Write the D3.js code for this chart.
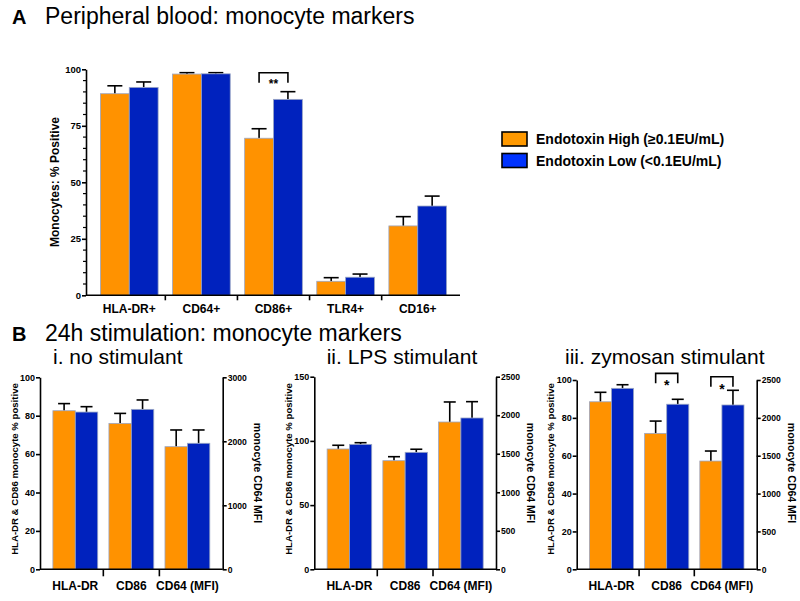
<!DOCTYPE html>
<html><head><meta charset="utf-8">
<script src="https://cdn.jsdelivr.net/npm/d3@7"></script>
<style>
body{margin:0;background:#fff}
text{font-family:"Liberation Sans",Arial,sans-serif}
</style>
</head><body>
<svg id="c" width="800" height="601"></svg>
<script>
// ---------- data ----------
const seriesNames = ["Endotoxin High (\u22650.1EU/mL)", "Endotoxin Low (<0.1EU/mL)"];

const aCategories = ["HLA-DR+", "CD64+", "CD86+", "TLR4+", "CD16+"];
const aHigh    = [89.2, 97.9, 69.5, 6.2, 30.7];
const aHighErr = [3.5, 0.6, 4.2, 1.6, 4.1];
const aLow     = [92.0, 98.0, 86.7, 8.0, 39.5];
const aLowErr  = [2.4, 0.5, 3.4, 1.4, 4.4];
const aTicks   = [0, 25, 50, 75, 100];

const bCategories = ["HLA-DR", "CD86", "CD64 (MFI)"];
const bTitles = ["i. no stimulant", "ii. LPS stimulant", "iii. zymosan stimulant"];

const b1High = [82.6, 76.0, 1916], b1HighErr = [3.7, 5.2, 261];
const b1Low  = [81.9, 83.3, 1969], b1LowErr  = [2.8, 4.9, 208];
const b2High = [93.7, 84.6, 1912], b2HighErr = [2.9, 3.1, 260];
const b2Low  = [97.3, 91.1, 1964], b2LowErr  = [1.3, 2.4, 212];
const b3High = [88.5, 71.8, 1430], b3HighErr = [5.0, 6.5, 132];
const b3Low  = [95.6, 87.2, 2170], b3LowErr  = [1.9, 2.6, 194];

const b1LeftTicks = [0, 20, 40, 60, 80, 100], b1RightTicks = [0, 1000, 2000, 3000];
const b2LeftTicks = [0, 50, 100, 150],        b2RightTicks = [0, 500, 1000, 1500, 2000, 2500];
const b3LeftTicks = [0, 20, 40, 60, 80, 100], b3RightTicks = [0, 500, 1000, 1500, 2000, 2500];

// significance annotations: category index, bracket level (data units), label
const aSig  = [{cat: 2, level: 98.5, label: "**"}];
const b3Sig = [{cat: 1, level: 103.5, axis: "left", label: "*"},
               {cat: 2, level: 2543, axis: "right", label: "*"}];

// ---------- style ----------
const ORANGE = "#FF9200", BLUE = "#0022BE";
const LEG_ORANGE = "#FF9900", LEG_BLUE = "#0033FF";
const BAR_STROKE = "#9aa6c4";
const svg = d3.select("#c");
const fmt = d3.format("d");

function styleAxis(g, fs) {
  g.selectAll("path,line").attr("stroke", "#000").attr("stroke-width", 1.6);
  g.selectAll("text").attr("font-size", fs).attr("font-weight", "bold")
    .attr("fill", "#000").attr("font-family", "Liberation Sans, Arial, sans-serif");
}

function drawBars(g, x, cats, high, highErr, low, lowErr, scaleFor, capW) {
  const inner = d3.scaleBand().domain([0, 1]).range([0, x.bandwidth()]).padding(0);
  const series = [{v: high, e: highErr, c: ORANGE}, {v: low, e: lowErr, c: BLUE}];
  series.forEach((s, si) => {
    cats.forEach((c, i) => {
      const y = scaleFor(i);
      const bx = x(c) + inner(si), bw = inner.bandwidth();
      const top = y(s.v[i]), errTop = y(s.v[i] + s.e[i]);
      const cx = bx + bw / 2;
      g.append("line").attr("x1", cx).attr("x2", cx).attr("y1", top).attr("y2", errTop)
        .attr("stroke", "#000").attr("stroke-width", 1.6);
      g.append("line").attr("x1", cx - capW / 2).attr("x2", cx + capW / 2)
        .attr("y1", errTop).attr("y2", errTop).attr("stroke", "#000").attr("stroke-width", 1.6);
      g.append("rect").attr("x", bx).attr("y", top).attr("width", bw)
        .attr("height", y(0) - top).attr("fill", s.c)
        .attr("stroke", BAR_STROKE).attr("stroke-width", 0.8);
    });
  });
}

function drawSig(g, x, cat, yPix, label, fs, labelDy) {
  const inner = x.bandwidth() / 4;
  const x1 = x(cat) + inner, x2 = x(cat) + 3 * inner;
  g.append("path").attr("d", `M${x1},${yPix + 10}V${yPix}H${x2}V${yPix + 10}`)
    .attr("fill", "none").attr("stroke", "#000").attr("stroke-width", 1.6);
  g.append("text").attr("x", (x1 + x2) / 2).attr("y", yPix + labelDy).attr("text-anchor", "middle")
    .attr("font-size", fs).attr("font-weight", "bold").text(label);
}

function groupTicks(g, x, cats, yBase, len) {
  for (let i = 0; i < cats.length - 1; i++) {
    const xm = (x(cats[i]) + x.bandwidth() + x(cats[i + 1])) / 2;
    g.append("line").attr("x1", xm).attr("x2", xm).attr("y1", yBase).attr("y2", yBase + len)
      .attr("stroke", "#000").attr("stroke-width", 1.6);
  }
}

// ---------- Panel A ----------
svg.append("text").attr("x", 12).attr("y", 24).attr("font-size", 20).attr("font-weight", "bold").text("A");
svg.append("text").attr("x", 45).attr("y", 24).attr("font-size", 23).text("Peripheral blood: monocyte markers");

{
  const x0 = 86, x1 = 460, yB = 295.3, yT = 69.3;
  const x = d3.scaleBand().domain(aCategories).range([x0, x1 + 1]).paddingInner(0.2).paddingOuter(0.2);
  const y = d3.scaleLinear().domain([0, 100]).range([yB, yT]);
  const g = svg.append("g");
  const minor = d3.range(0, 101, 5).filter(v => !aTicks.includes(v));
  g.selectAll(".mn").data(minor).enter().append("line")
    .attr("x1", x0 - 3).attr("x2", x0).attr("y1", d => y(d)).attr("y2", d => y(d))
    .attr("stroke", "#000").attr("stroke-width", 1.2);
  drawBars(g, x, aCategories, aHigh, aHighErr, aLow, aLowErr, () => y, 15);
  const ya = g.append("g").attr("transform", `translate(${x0},0)`)
    .call(d3.axisLeft(y).tickValues(aTicks).tickFormat(fmt).tickSize(4).tickPadding(1).tickSizeOuter(0));
  styleAxis(ya, 9.5);
  g.append("line").attr("x1", x0).attr("x2", x1).attr("y1", yB).attr("y2", yB)
    .attr("stroke", "#000").attr("stroke-width", 1.6);
  groupTicks(g, x, aCategories, yB, 5);
  g.selectAll(".xl").data(aCategories).enter().append("text")
    .attr("x", d => x(d) + x.bandwidth() / 2).attr("y", 313).attr("text-anchor", "middle")
    .attr("font-size", 12).attr("font-weight", "bold").text(d => d);
  g.append("text").attr("transform", `translate(59,182) rotate(-90)`).attr("text-anchor", "middle")
    .attr("font-size", 12).attr("font-weight", "bold").text("Monocytes: % Positive");
  aSig.forEach(s => drawSig(g, x, aCategories[s.cat], y(s.level), s.label, 12, 15));
}

// ---------- Legend ----------
{
  const lg = svg.append("g");
  const cols = [LEG_ORANGE, LEG_BLUE];
  seriesNames.forEach((n, i) => {
    lg.append("rect").attr("x", 502).attr("y", 132 + i * 21.5).attr("width", 25).attr("height", 14)
      .attr("fill", cols[i]).attr("stroke", "#000").attr("stroke-width", 1.6);
    lg.append("text").attr("x", 536).attr("y", 144 + i * 21.5).attr("font-size", 14)
      .attr("font-weight", "bold").text(n);
  });
}

// ---------- Panel B ----------
svg.append("text").attr("x", 12).attr("y", 341).attr("font-size", 20).attr("font-weight", "bold").text("B");
svg.append("text").attr("x", 45).attr("y", 341).attr("font-size", 23).text("24h stimulation: monocyte markers");

const panelsB = [
  {title: bTitles[0], high: b1High, highErr: b1HighErr, low: b1Low, lowErr: b1LowErr,
   lt: b1LeftTicks, rt: b1RightTicks, x0: 40, x1: 222.7, yT: 377.3, tx: 53, sig: []},
  {title: bTitles[1], high: b2High, highErr: b2HighErr, low: b2Low, lowErr: b2LowErr,
   lt: b2LeftTicks, rt: b2RightTicks, x0: 314.3, x1: 496, yT: 376.7, tx: 326.7, sig: []},
  {title: bTitles[2], high: b3High, highErr: b3HighErr, low: b3Low, lowErr: b3LowErr,
   lt: b3LeftTicks, rt: b3RightTicks, x0: 576.7, x1: 756.7, yT: 380, tx: 565, sig: b3Sig}
];

panelsB.forEach(p => {
  const yB = 569.3;
  const g = svg.append("g");
  const x = d3.scaleBand().domain(bCategories).range([p.x0, p.x1]).paddingInner(0.2).paddingOuter(0.23);
  const yl = d3.scaleLinear().domain([0, d3.max(p.lt)]).range([yB, p.yT]);
  const yr = d3.scaleLinear().domain([0, d3.max(p.rt)]).range([yB, p.yT]);
  g.append("text").attr("x", p.tx).attr("y", 364).attr("font-size", 21).text(p.title);
  drawBars(g, x, bCategories, p.high, p.highErr, p.low, p.lowErr, i => i === 2 ? yr : yl, 12);
  const la = g.append("g").attr("transform", `translate(${p.x0},0)`)
    .call(d3.axisLeft(yl).tickValues(p.lt).tickFormat(fmt).tickSize(4).tickPadding(1).tickSizeOuter(0));
  styleAxis(la, 9);
  const ra = g.append("g").attr("transform", `translate(${p.x1},0)`)
    .call(d3.axisRight(yr).tickValues(p.rt).tickFormat(fmt).tickSize(4).tickPadding(1).tickSizeOuter(0));
  styleAxis(ra, 8.6);
  g.append("line").attr("x1", p.x0).attr("x2", p.x1).attr("y1", yB).attr("y2", yB)
    .attr("stroke", "#000").attr("stroke-width", 1.6);
  groupTicks(g, x, bCategories, yB, 7);
  g.selectAll(".xl").data(bCategories).enter().append("text")
    .attr("x", d => x(d) + x.bandwidth() / 2).attr("y", 590).attr("text-anchor", "middle")
    .attr("font-size", 12).attr("font-weight", "bold").text(d => d);
  g.append("text").attr("transform", `translate(${p.x0 - 22.5},469) rotate(-90)`).attr("text-anchor", "middle")
    .attr("font-size", 9.6).attr("font-weight", "bold").text("HLA-DR & CD86 monocyte % positive");
  g.append("text").attr("transform", `translate(${p.x1 + 31},473) rotate(90)`).attr("text-anchor", "middle")
    .attr("font-size", 10.5).attr("font-weight", "bold").text("monocyte CD64 MFI");
  p.sig.forEach(s => {
    const sc = s.axis === "right" ? yr : yl;
    drawSig(g, x, bCategories[s.cat], sc(s.level), s.label, 14, 17);
  });
});
</script>
</body></html>
